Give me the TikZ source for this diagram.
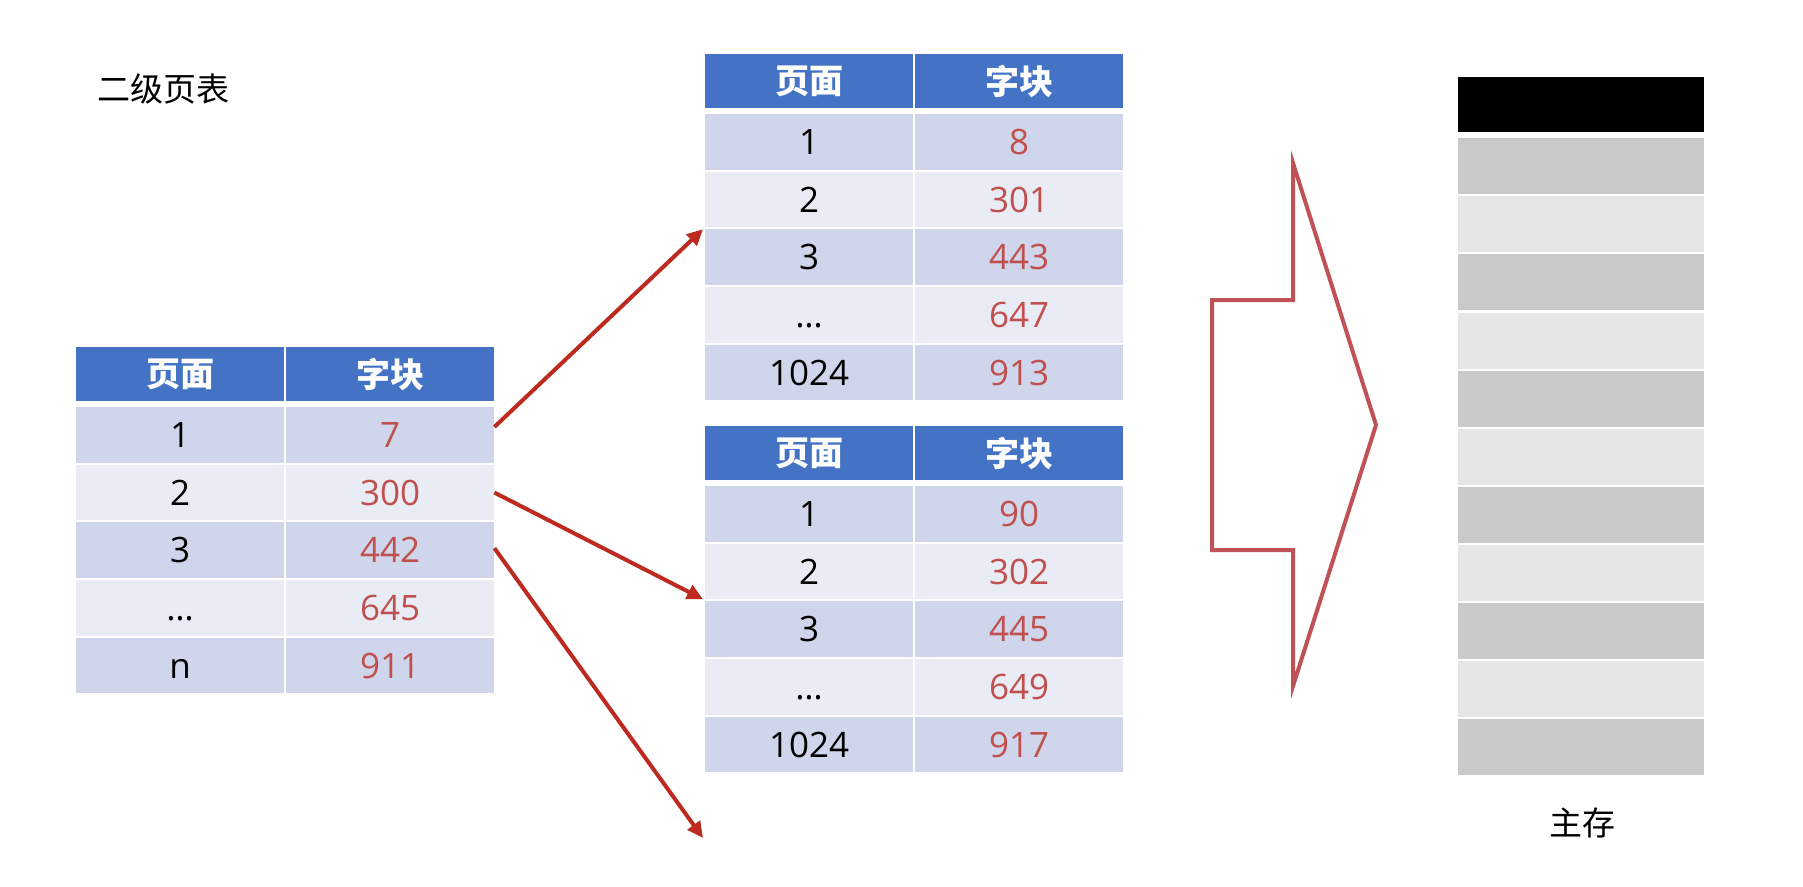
\documentclass[tikz,border=0pt]{standalone}
\usepackage{fontspec}
\setmainfont{Open Sans}
\newfontfamily\cjk{Noto Sans CJK SC}
\usetikzlibrary{arrows.meta}
\definecolor{hdr}{HTML}{4472C4}
\definecolor{rowdark}{HTML}{CFD5EA}
\definecolor{rowlight}{HTML}{E9EBF5}
\definecolor{valred}{HTML}{C0504D}
\definecolor{arrred}{RGB}{188,42,32}
\definecolor{bigred}{RGB}{190,82,86}
\definecolor{memdark}{HTML}{C9C9C9}
\definecolor{memlight}{HTML}{E6E6E6}
\tikzset{
  cellbox/.style={rectangle, inner sep=0pt, anchor=north west, minimum width=208pt, minimum height=55.5pt},
  hdrcell/.style={cellbox, minimum height=54pt, fill=hdr, text=white, font=\cjk\bfseries\fontsize{34}{38}\selectfont},
  numcell/.style={cellbox, text height=25.5pt, text depth=0pt, font=\fontsize{35}{40}\selectfont},
  valcell/.style={numcell, text=valred},
  memblk/.style={rectangle, inner sep=0pt, anchor=north west, minimum width=246pt, minimum height=56pt},
  redarr/.style={draw=arrred, line width=4pt, -{Triangle[length=16pt,width=15pt]}},
  bigarrow/.style={draw=bigred, line width=4pt, line join=miter},
  plaintext/.style={font=\cjk\fontsize{33}{38}\selectfont, text=black}
}
\begin{document}
\begin{tikzpicture}[x=1pt,y=-1pt]
\useasboundingbox[fill=white] (0,0) rectangle (1803,886);

% title
\node[plaintext, anchor=west] (title) at (94,89) {二级页表};

% ---------- left table ----------
\node[hdrcell] (Lha) at (76,347) {页面};
\node[hdrcell] (Lhb) at (286,347) {字块};
\foreach \i/\p/\v/\c in {1/1/7/rowdark, 2/2/300/rowlight, 3/3/442/rowdark, 4/…/645/rowlight, 5/n/911/rowdark}{
  \node[numcell, fill=\c] (L\i a) at (76,{407+(\i-1)*57.6}) {\p};
  \node[valcell, fill=\c] (L\i b) at (286,{407+(\i-1)*57.6}) {\v};
}

% ---------- top table ----------
\node[hdrcell] (Tha) at (705,54) {页面};
\node[hdrcell] (Thb) at (915,54) {字块};
\foreach \i/\p/\v/\c in {1/1/8/rowdark, 2/2/301/rowlight, 3/3/443/rowdark, 4/…/647/rowlight, 5/1024/913/rowdark}{
  \node[numcell, fill=\c] (T\i a) at (705,{114+(\i-1)*57.6}) {\p};
  \node[valcell, fill=\c] (T\i b) at (915,{114+(\i-1)*57.6}) {\v};
}

% ---------- bottom table ----------
\node[hdrcell] (Bha) at (705,426) {页面};
\node[hdrcell] (Bhb) at (915,426) {字块};
\foreach \i/\p/\v/\c in {1/1/90/rowdark, 2/2/302/rowlight, 3/3/445/rowdark, 4/…/649/rowlight, 5/1024/917/rowdark}{
  \node[numcell, fill=\c] (B\i a) at (705,{486+(\i-1)*57.6}) {\p};
  \node[valcell, fill=\c] (B\i b) at (915,{486+(\i-1)*57.6}) {\v};
}

% ---------- connectors ----------
\coordinate (free) at (703,838);
\draw[redarr] ([yshift=8pt]L1b.east) -- ([xshift=-2pt]T3a.north west);
\draw[redarr] (L2b.east) -- ([xshift=-2pt,yshift=2pt]B3a.north west);
\draw[redarr] ([yshift=2pt]L3b.east) -- (free);

% ---------- big arrow ----------
\draw[bigarrow] (1212,300) -- (1293,300) -- (1293,163) -- (1376,425) -- (1293,686) -- (1293,550) -- (1212,550) -- cycle;

% ---------- main memory ----------
\node[memblk, fill=black, minimum height=55pt] (m0) at (1458,77) {};
\foreach \i in {1,...,11}{
  \pgfmathtruncatemacro\odd{mod(\i,2)}
  \ifnum\odd=1
    \node[memblk, fill=memdark] (m\i) at (1458,{138+(\i-1)*58.1}) {};
  \else
    \node[memblk, fill=memlight] (m\i) at (1458,{138+(\i-1)*58.1}) {};
  \fi
}
\node[plaintext] (memlabel) at (1582,823) {主存};
\end{tikzpicture}
\end{document}
